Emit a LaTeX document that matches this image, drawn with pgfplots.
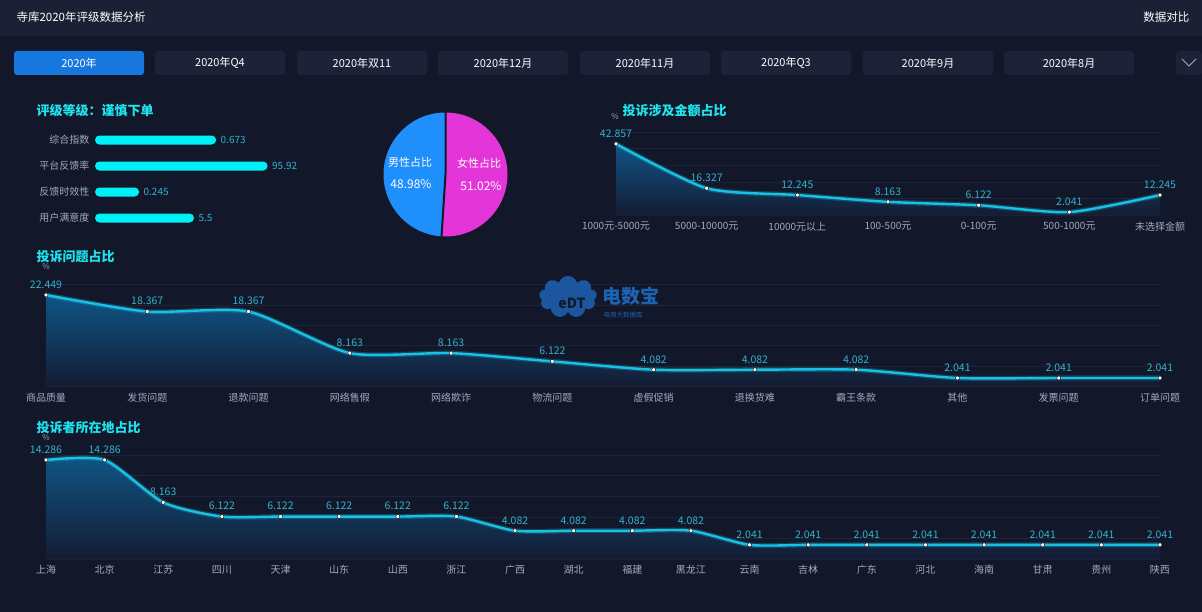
\documentclass[border=0pt]{standalone}
\usepackage{fontspec}
\setmainfont{Noto Sans CJK SC}
\usepackage{pgfplots}
\usepackage{pgfplotstable}
\pgfplotsset{compat=1.18}
\usetikzlibrary{shapes.symbols}
\definecolor{bg}{HTML}{121829}
\definecolor{hdr}{HTML}{1B2035}
\definecolor{tabc}{HTML}{1C2237}
\definecolor{tabact}{HTML}{1677DE}
\definecolor{ttl}{HTML}{1FE3EE}
\definecolor{lbl}{HTML}{A3AAC2}
\definecolor{val}{HTML}{33B2CC}
\definecolor{barc}{HTML}{00F0F8}
\definecolor{linec}{HTML}{18C2E4}
\definecolor{areatop}{HTML}{0F5586}
\definecolor{areabot}{HTML}{141C33}
\definecolor{gridc}{HTML}{1D2439}
\definecolor{male}{HTML}{1E8FFB}
\definecolor{female}{HTML}{E436D8}
\definecolor{logo}{HTML}{1E62B4}

\pgfplotstableread{
i v
0 42.857
1 16.327
2 12.245
3 8.163
4 6.122
5 2.041
6 12.245
}\dataA
\pgfplotstableread{
i v
0 22.449
1 18.367
2 18.367
3 8.163
4 8.163
5 6.122
6 4.082
7 4.082
8 4.082
9 2.041
10 2.041
11 2.041
}\dataB
\pgfplotstableread{
i v
0 14.286
1 14.286
2 8.163
3 6.122
4 6.122
5 6.122
6 6.122
7 6.122
8 4.082
9 4.082
10 4.082
11 4.082
12 2.041
13 2.041
14 2.041
15 2.041
16 2.041
17 2.041
18 2.041
19 2.041
}\dataC

\pgfplotsset{
  lc/.style={scale only axis, anchor=south west, enlargelimits=false, clip=false,
    axis line style={draw=none}, ymajorgrids, grid style={gridc, line width=0.7pt},
    xtick=data, yticklabel={\relax}, major tick length=0pt, ymin=0,
    xticklabel style={font=\fontsize{10}{12}\selectfont, text=lbl, anchor=center, yshift=-11pt},
    every node near coord/.append style={text=val, font=\fontsize{10.5}{12}\selectfont, yshift=3pt},
  },
}
\newcommand\lineplots[1]{%
  \addplot[draw=none, top color=areatop, bottom color=areabot, smooth, tension=0.4] table[x=i,y=v]{#1} \closedcycle;
  \addplot[linec, line width=5pt, opacity=0.25, smooth, tension=0.4] table[x=i,y=v]{#1};
  \addplot[linec, line width=2.4pt, smooth, tension=0.4] table[x=i,y=v]{#1};
  \addplot[only marks, mark=*, mark size=2pt, mark options={fill=white, draw=none},
    nodes near coords={\pgfmathprintnumber[fixed, precision=3, assume math mode=true]{\pgfplotspointmeta}}] table[x=i,y=v]{#1};
}

\begin{document}
\begin{tikzpicture}[x=1pt,y=1pt]
\fill[bg] (0,0) rectangle (1202,-612);
\fill[hdr] (0,0) rectangle (1202,-36);
\node[anchor=west, text=white, font=\fontsize{11.5}{13}\selectfont] at (13,-17) {寺库2020年评级数据分析};
\node[anchor=east, text=white, font=\fontsize{11.5}{13}\selectfont] at (1193,-17) {数据对比};

% tabs
\foreach \x/\t [count=\k] in {14/2020年, 155/2020年Q4, 297/2020年双11, 438/2020年12月, 580/2020年11月, 721/2020年Q3, 863/2020年9月, 1004/2020年8月}{
  \ifnum\k=1
    \fill[tabact, rounded corners=3pt] (\x,-51) rectangle ++(130,-24);
  \else
    \fill[tabc, rounded corners=3pt] (\x,-51) rectangle ++(130,-24);
  \fi
  \node[text=white, font=\fontsize{11}{13}\selectfont] at (\x+65,-63) {\t};
}
\fill[tabc, rounded corners=3pt] (1176,-51) rectangle (1202,-75);
\draw[lbl, line width=0.9pt] (1182,-59) -- (1189,-66) -- (1196,-59);

% rating
\node[anchor=west, text=ttl, font=\fontsize{13}{15}\selectfont\bfseries] at (33,-111) {评级等级：谨慎下单};
\begin{axis}[at={(95pt,-231pt)}, anchor=south west, scale only axis, width=180pt, height=104pt,
  xmin=0, xmax=100, ymin=-0.5, ymax=3.5, y dir=reverse, clip=false,
  axis line style={draw=none}, xtick=\empty, ytick={0,1,2,3},
  yticklabels={综合指数,平台反馈率,反馈时效性,用户满意度}, major tick length=0pt,
  yticklabel style={text=lbl, font=\fontsize{10}{12}\selectfont, xshift=-2pt}]
\addplot[xbar, bar width=9pt, fill=barc, draw=none, rounded corners=4.5pt,
  point meta=explicit symbolic, nodes near coords,
  nodes near coords style={text=val, font=\fontsize{10}{12}\selectfont, anchor=west, xshift=1pt}]
  coordinates {(67.3,0)[0.673] (95.92,1)[95.92] (24.5,2)[0.245] (55,3)[5.5]};
\end{axis}

% pie
\pgfmathsetmacro\fem{3.6*51.02}
\pgfmathsetmacro\mal{3.6*48.98}
\begin{scope}[shift={(445.5,-174.5)}]
\fill[female] (0,0) -- (90:62) arc[start angle=90, delta angle=-\fem, radius=62] -- cycle;
\fill[male] (0,0) -- (90:62) arc[start angle=90, delta angle=\mal, radius=62] -- cycle;
\draw[bg, line width=2pt] (90:63) -- (0,0) -- (90-\fem:63);
\end{scope}
\node[text=white, font=\fontsize{11}{13}\selectfont] at (410,-162) {男性占比};
\node[text=white, font=\fontsize{12}{14}\selectfont] at (411,-184) {48.98\%};
\node[text=white, font=\fontsize{11}{13}\selectfont] at (479,-163) {女性占比};
\node[text=white, font=\fontsize{12}{14}\selectfont] at (481,-186) {51.02\%};

% chart A
\node[anchor=west, text=ttl, font=\fontsize{13}{15}\selectfont\bfseries] at (619,-111) {投诉涉及金额占比};
\node[text=lbl, font=\fontsize{8}{9}\selectfont] at (615,-117) {\%};
\begin{axis}[lc, at={(616pt,-215.5pt)}, width=544pt, height=83.5pt, xmin=0, xmax=6, ymax=50, ytick={0,10,...,50},
  xticklabels={1000元-5000元,5000-10000元,10000元以上,100-500元,0-100元,500-1000元,未选择金额}]
\lineplots{\dataA}
\end{axis}

% chart B
\node[anchor=west, text=ttl, font=\fontsize{13}{15}\selectfont\bfseries] at (33,-257) {投诉问题占比};
\node[text=lbl, font=\fontsize{8}{9}\selectfont] at (46,-267) {\%};
\begin{axis}[lc, at={(46pt,-386.3pt)}, width=1114pt, height=101.7pt, xmin=0, xmax=11, ymax=25, ytick={0,5,...,25},
  xticklabels={商品质量,发货问题,退款问题,网络售假,网络欺诈,物流问题,虚假促销,退换货难,霸王条款,其他,发票问题,订单问题}]
\lineplots{\dataB}
\end{axis}

% logo watermark
\node[cloud, cloud puffs=9, fill=logo, minimum width=58pt, minimum height=42pt, opacity=0.85] at (568,-297) {};
\node[text=bg, font=\fontsize{14}{16}\selectfont\bfseries] at (572,-303) {eDT};
\node[anchor=west, text=logo, font=\fontsize{19}{21}\selectfont\bfseries] at (599,-296) {电数宝};
\node[anchor=west, text=logo, font=\fontsize{6.5}{8}\selectfont] at (600,-315) {电商大数据库};

% chart C
\node[anchor=west, text=ttl, font=\fontsize{13}{15}\selectfont\bfseries] at (33,-428) {投诉者所在地占比};
\node[text=lbl, font=\fontsize{8}{9}\selectfont] at (46,-438) {\%};
\begin{axis}[lc, at={(46pt,-559pt)}, width=1114pt, height=104pt, xmin=0, xmax=19, ymax=15, ytick={0,3,...,15},
  xticklabels={上海,北京,江苏,四川,天津,山东,山西,浙江,广西,湖北,福建,黑龙江,云南,吉林,广东,河北,海南,甘肃,贵州,陕西}]
\lineplots{\dataC}
\end{axis}
\pgfresetboundingbox
\useasboundingbox (0,0) rectangle (1202,-612);
\end{tikzpicture}
\end{document}
